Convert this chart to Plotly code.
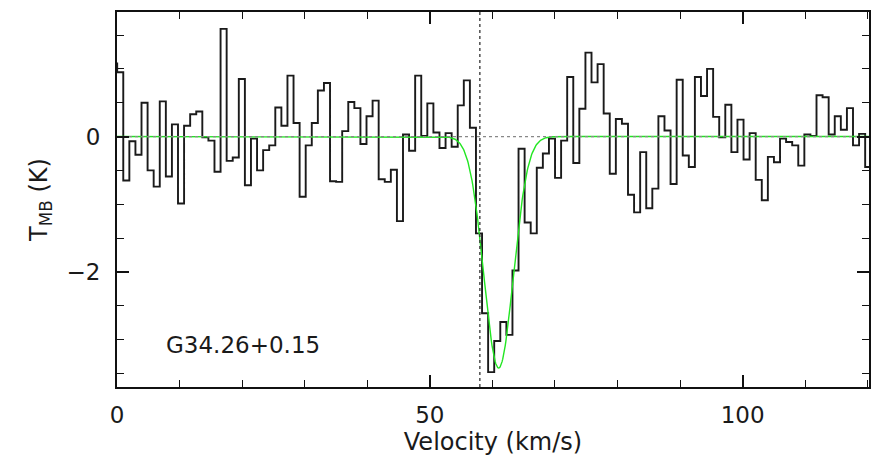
import numpy as np
import plotly.graph_objects as go

# Spectrum of G34.26+0.15: main-beam temperature per velocity channel (K)
channel_start = -0.942   # left edge of first channel (km/s)
channel_width = 0.972    # km/s
t_mb = [
    1.08, 0.95, -0.65, -0.07, -0.27, 0.50, -0.50, -0.74, 0.52, -0.59,
    0.18, -0.99, 0.16, 0.33, 0.37, -0.01, -0.06, -0.52, 1.59, -0.36,
    -0.31, 0.85, -0.72, -0.03, -0.50, -0.20, -0.13, 0.43, 0.16, 0.90,
    0.20, -0.89, -0.13, 0.20, 0.68, 0.79, -0.66, -0.67, 0.08, 0.51,
    0.42, -0.11, 0.30, 0.53, -0.63, -0.67, -0.49, -1.25, 0.03, -0.21,
    0.90, 0.01, 0.49, 0.06, -0.17, 0.05, -0.15, 0.46, 0.83, 0.13,
    -1.43, -2.61, -3.48, -3.02, -2.74, -2.93, -1.98, -0.18, -1.27, -1.43,
    -0.46, -0.25, -0.03, -0.61, -0.06, 0.88, -0.39, 0.41, 1.24, 0.80,
    1.07, 0.34, -0.55, 0.26, 0.19, -0.86, -1.12, -0.23, -1.06, -0.77,
    0.30, 0.09, -0.70, 0.84, -0.28, -0.45, 0.88, 0.60, 1.00, 0.29,
    -0.01, 0.47, -0.23, 0.25, -0.34, 0.05, -0.64, -0.94, -0.30, -0.38,
    -0.03, -0.08, -0.13, -0.43, 0.03, 0.01, 0.61, 0.58, 0.03, 0.30,
    0.10, 0.42, -0.13, 0.04, -0.45,
]

# Gaussian fit to the absorption feature
fit_amplitude = -3.42   # K
fit_center = 61.0       # km/s
fit_fwhm = 5.5          # km/s

# Reference velocity marker and source name
v_ref = 58.0
source_name = "G34.26+0.15"

x_range = [0, 120.2]
y_range = [-3.7, 1.84]

# histogram steps: each channel drawn from its left edge
edges = channel_start + channel_width * np.arange(len(t_mb) + 1)
step_y = np.append(t_mb, t_mb[-1])

v_fit = np.linspace(x_range[0], x_range[1], 1200)
sigma = fit_fwhm / (2 * np.sqrt(2 * np.log(2)))
t_fit = fit_amplitude * np.exp(-0.5 * ((v_fit - fit_center) / sigma) ** 2)

fig = go.Figure()

fig.add_trace(go.Scatter(
    x=edges, y=step_y, mode="lines", line_shape="hv",
    line=dict(color="#1a1a1a", width=1.9), hoverinfo="skip", showlegend=False,
))
fig.add_trace(go.Scatter(
    x=v_fit, y=t_fit, mode="lines",
    line=dict(color="#22e622", width=1.4), hoverinfo="skip", showlegend=False,
))
# dotted zero baseline
fig.add_trace(go.Scatter(
    x=x_range, y=[0, 0], mode="lines",
    line=dict(color="#888888", width=1.3, dash="dot"), hoverinfo="skip", showlegend=False,
))
# dotted reference velocity
fig.add_trace(go.Scatter(
    x=[v_ref, v_ref], y=y_range, mode="lines",
    line=dict(color="#333333", width=1.3, dash="dot"), hoverinfo="skip", showlegend=False,
))

text_font = dict(family="DejaVu Sans, Verdana, sans-serif", size=23, color="#1a1a1a")
title_font = dict(family="DejaVu Sans, Verdana, sans-serif", size=24, color="#1a1a1a")

fig.add_annotation(
    x=7.5, y=-3.08, xref="x", yref="y", text=source_name, showarrow=False,
    xanchor="left", yanchor="middle", font=text_font,
)

fig.update_xaxes(
    range=x_range, showgrid=False, zeroline=False, automargin=False,
    showline=True, linecolor="#111111", linewidth=2, mirror="ticks",
    ticks="inside", tickcolor="#111111", ticklen=12, tickwidth=1.5,
    tick0=0, dtick=50, tickfont=text_font, ticklabelstandoff=6,
    minor=dict(ticks="inside", dtick=10, ticklen=7, tickcolor="#111111", tickwidth=1.3),
    title=dict(text="Velocity (km/s)", font=title_font, standoff=0),
)
fig.update_yaxes(
    range=y_range, showgrid=False, zeroline=False, automargin=False,
    showline=True, linecolor="#111111", linewidth=2, mirror="ticks",
    ticks="inside", tickcolor="#111111", ticklen=12, tickwidth=1.5,
    tick0=0, dtick=2, tickfont=text_font, ticklabelstandoff=10,
    minor=dict(ticks="inside", dtick=0.5, ticklen=7, tickcolor="#111111", tickwidth=1.3),
    title=dict(text="T<sub>MB</sub> (K)", font=title_font, standoff=12),
)

fig.update_layout(
    width=876, height=459,
    margin=dict(l=117, r=7, t=12, b=72),
    paper_bgcolor="white", plot_bgcolor="white",
)

fig.write_html("out.html")
